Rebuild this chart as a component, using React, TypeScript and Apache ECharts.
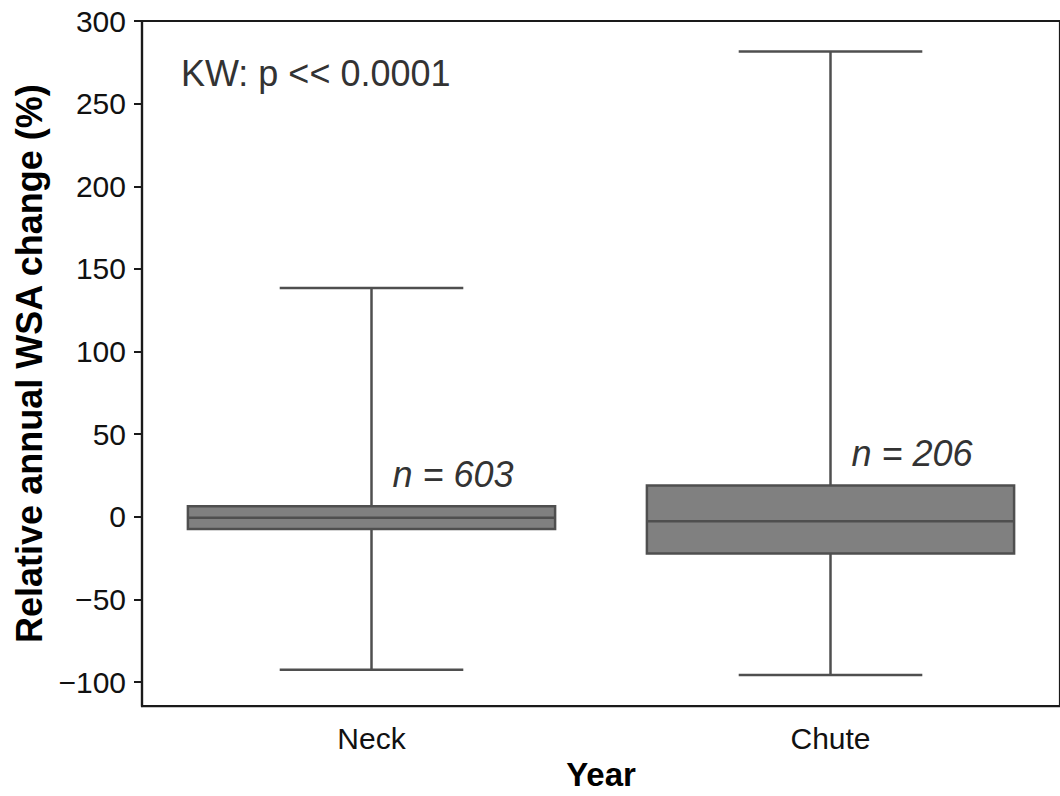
import React, { useEffect, useRef } from "react";
import * as echarts from "echarts";

const categories = ["Neck", "Chute"];
// [low whisker, Q1, median, Q3, high whisker]
const neckStats = [-92.5, -7.3, -0.5, 6.4, 138.4];
const chuteStats = [-95.7, -22.2, -2.7, 18.9, 281.5];
const sampleSizes = [603, 206];
const yTicks = [-100, -50, 0, 50, 100, 150, 200, 250, 300];
const yMin = -114.5;
const yMax = 300;
const statTitle = "KW: p << 0.0001";

const FONT = "'Liberation Sans', Arial, Helvetica, sans-serif";
const LINE = "#4f4f4f";
const FILL = "#808080";

export default function App() {
  const ref = useRef<HTMLDivElement>(null);
  useEffect(() => {
    if (!ref.current) return;
    const chart = echarts.init(ref.current, null, { renderer: "svg" });
    const data = [neckStats, chuteStats].map((s, i) => [i, ...s, sampleSizes[i]]);
    const option: any = {
      animation: false,
      backgroundColor: "#ffffff",
      grid: {
        left: 142,
        top: 21,
        width: 924,
        height: 685.7,
        show: true,
        borderColor: "#1a1a1a",
        borderWidth: 2.2,
        backgroundColor: "transparent",
      },
      xAxis: {
        type: "category",
        data: categories,
        boundaryGap: true,
        name: "Year",
        nameLocation: "middle",
        nameGap: 50,
        nameTextStyle: { fontFamily: FONT, fontSize: 33, fontWeight: "bold", color: "#000" },
        axisLine: { onZero: false, lineStyle: { color: "#1a1a1a", width: 2.2 } },
        axisTick: { alignWithLabel: true, length: 8, lineStyle: { color: "#1a1a1a", width: 2 } },
        axisLabel: { fontFamily: FONT, fontSize: 30, color: "#111", margin: 17 },
        splitLine: { show: false },
      },
      yAxis: {
        type: "value",
        min: yMin,
        max: yMax,
        name: "Relative annual WSA change (%)",
        nameLocation: "middle",
        nameGap: 90,
        nameTextStyle: { fontFamily: FONT, fontSize: 36, fontWeight: "bold", color: "#000" },
        axisLine: { show: true, lineStyle: { color: "#1a1a1a", width: 2.2 } },
        axisTick: { show: true, length: 8, customValues: yTicks, lineStyle: { color: "#1a1a1a", width: 2 } },
        axisLabel: {
          fontFamily: FONT,
          fontSize: 30,
          color: "#111",
          margin: 16,
          customValues: yTicks,
          formatter: (v: number) => String(v).replace("-", "\u2212"),
        },
        splitLine: { show: false },
      },
      graphic: [
        {
          type: "text",
          left: 181,
          top: 55,
          style: { text: statTitle, fontFamily: FONT, fontSize: 36, fill: "#333" },
        },
      ],
      series: [
        {
          type: "custom",
          data,
          encode: { x: 0, y: [1, 2, 3, 4, 5] },
          renderItem: (params: any, api: any) => {
            const x = api.value(0);
            const low = api.coord([x, api.value(1)]);
            const q1 = api.coord([x, api.value(2)]);
            const med = api.coord([x, api.value(3)]);
            const q3 = api.coord([x, api.value(4)]);
            const high = api.coord([x, api.value(5)]);
            const n = api.value(6);
            const band = api.size([1, 0])[0];
            const boxW = band * 0.8;
            const capW = boxW / 2;
            const cx = q3[0];
            const ls = { stroke: LINE, lineWidth: 2.5 };
            return {
              type: "group",
              children: [
                { type: "line", shape: { x1: cx, y1: q3[1], x2: cx, y2: high[1] }, style: ls },
                { type: "line", shape: { x1: cx, y1: q1[1], x2: cx, y2: low[1] }, style: ls },
                { type: "line", shape: { x1: cx - capW / 2, y1: high[1], x2: cx + capW / 2, y2: high[1] }, style: ls },
                { type: "line", shape: { x1: cx - capW / 2, y1: low[1], x2: cx + capW / 2, y2: low[1] }, style: ls },
                {
                  type: "rect",
                  shape: { x: cx - boxW / 2, y: q3[1], width: boxW, height: q1[1] - q3[1] },
                  style: { fill: FILL, stroke: LINE, lineWidth: 2.5 },
                },
                { type: "line", shape: { x1: cx - boxW / 2, y1: med[1], x2: cx + boxW / 2, y2: med[1] }, style: ls },
                {
                  type: "text",
                  x: cx + 21,
                  y: q3[1] - 14,
                  style: {
                    text: "n = " + n,
                    fontFamily: FONT,
                    fontSize: 36,
                    fontStyle: "italic",
                    fill: "#333",
                    align: "left",
                    verticalAlign: "bottom",
                  },
                },
              ],
            };
          },
        },
      ],
    };
    chart.setOption(option);
    return () => chart.dispose();
  }, []);
  return (
    <div
      ref={ref}
      style={{ position: "fixed", left: 0, top: 0, width: 1060, height: 796, background: "#fff" }}
    />
  );
}
